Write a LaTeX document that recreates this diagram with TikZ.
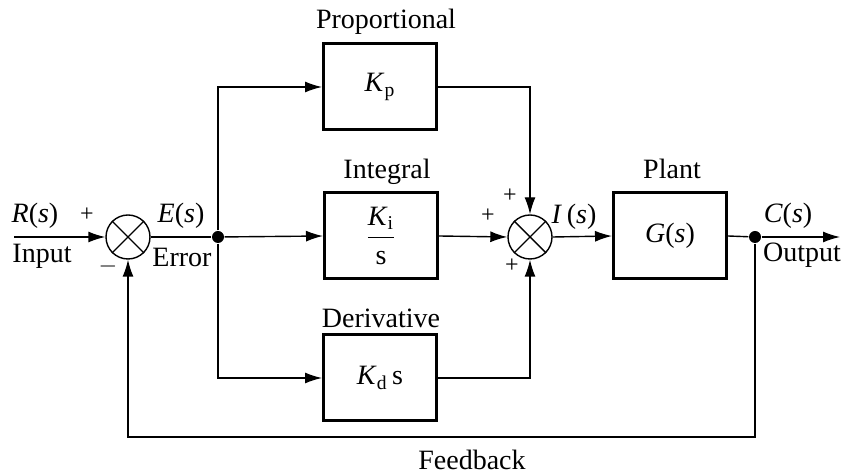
\documentclass[tikz,border=0pt]{standalone}
\usepackage{fontspec}
\setmainfont{Liberation Serif}
\usetikzlibrary{arrows.meta}

\tikzset{
  block/.style={draw, line width=1.5pt, minimum width=56.5pt, minimum height=43pt, inner sep=0pt},
  sumnode/.style={draw, circle, line width=0.7pt, minimum size=22pt, inner sep=0pt},
  dotnode/.style={circle, fill, inner sep=0pt, minimum size=6pt},
  sign/.style={font=\fontsize{12}{14}\selectfont}
}

\begin{document}
\begin{tikzpicture}[x=0.5pt, y=-0.5pt, >={Latex[length=8.5pt,width=5.5pt]},
    line width=0.7pt, font=\fontsize{14}{16}\selectfont]

    % Cornice
    \useasboundingbox (0,0) rectangle (845,474);

    % Nodi di somma e diramazione
    \node[sumnode] (s1) at (128,237) {};
    \draw (s1.north west) -- (s1.south east) (s1.north east) -- (s1.south west);
    \node[sumnode] (s2) at (530,237) {};
    \draw (s2.north west) -- (s2.south east) (s2.north east) -- (s2.south west);
    \node[dotnode] (j1) at (218,237) {};
    \node[dotnode] (j2) at (755,237) {};

    % Blocchi
    \node[block] (kp) at (380,87) {\textit{K}\textsubscript{p}};
    \node[block] (ki) at (381,236) {$\displaystyle\frac{\mbox{\textit{K}\textsubscript{i}}}{\mbox{s}}$};
    \node[block] (kd) at (380,378) {\textit{K}\textsubscript{d}\,s};
    \node[block] (plant) at (670,236) {\textit{G}(\textit{s})};

    % Titoli dei blocchi
    \node (tp) at (386,22) {Proportional};
    \node (ti) at (387,172) {Integral};
    \node (td) at (381,318) {Derivative};
    \node (tg) at (672,169) {Plant};

    % Estremi liberi
    \coordinate (in) at (14,237);
    \coordinate (out) at (840,237);
    \coordinate (fb) at (472,437);

    % Collegamenti
    \draw[->] (in) -- (s1.west);
    \draw (s1.east) -- (j1);
    \draw[->] (j1) |- (kp.west);
    \draw[->] (j1) -- (ki.west);
    \draw[->] (j1) |- (kd.west);
    \draw[->] (kp.east) -| (s2.north);
    \draw[->] (ki.east) -- (s2.west);
    \draw[->] (kd.east) -| (s2.south);
    \draw[->] (s2.east) -- (plant.west);
    \draw (plant.east) -- (j2);
    \draw[->] (j2) -- (out);
    \draw[->] (j2) |- (fb) -| (s1.south);

    % Etichette dei segnali
    \node at (35,216) {\textit{R}(\textit{s})};
    \node at (42,256) {Input};
    \node at (181,216) {\textit{E}(\textit{s})};
    \node at (182,257) {Error};
    \node at (574,217) {\textit{I}\,(\textit{s})};
    \node at (788,216) {\textit{C}(\textit{s})};
    \node at (802,255) {Output};
    \node at (472,460) {Feedback};

    % Segni
    \node[sign] at (87,215) {+};
    \node[sign] at (108,267) {$-$};
    \node[sign] at (510,196) {+};
    \node[sign] at (488,216) {+};
    \node[sign] at (512,266) {+};

\end{tikzpicture}
\end{document}
